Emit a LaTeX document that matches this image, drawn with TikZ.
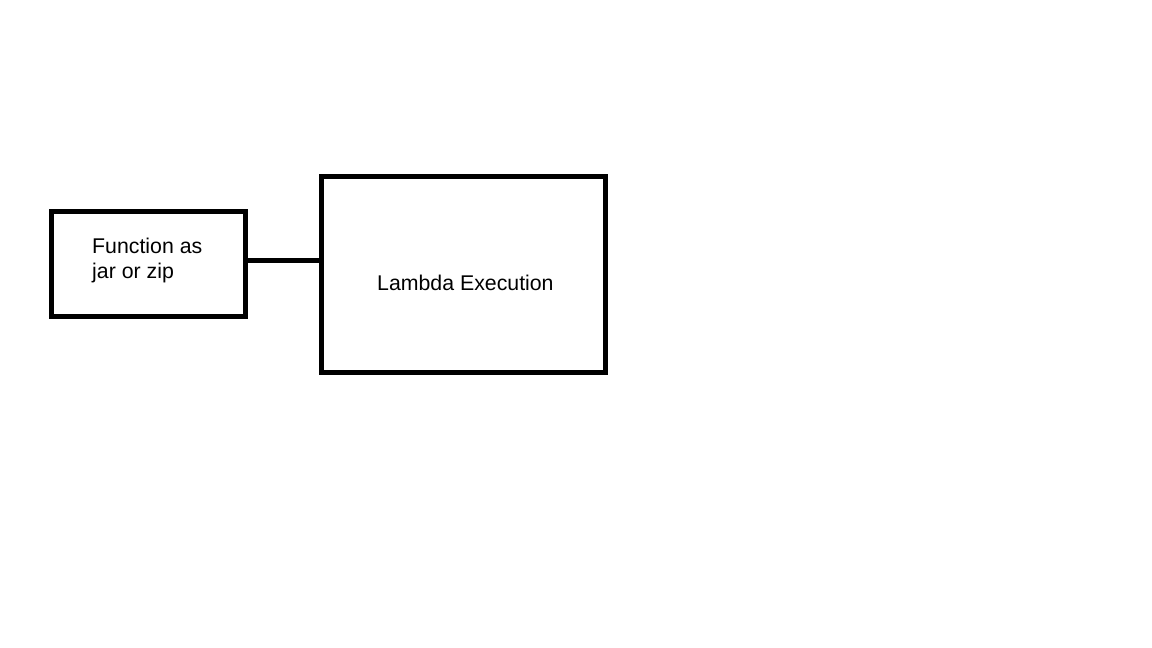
\documentclass[tikz,border=0pt]{standalone}
\usepackage{fontspec}
\setmainfont{Liberation Sans}
\begin{document}
\begin{tikzpicture}[x=1pt,y=-1pt,
  box/.style={draw=black,line width=5pt,inner sep=0pt,minimum width=#1},
  lbl/.style={font=\fontsize{21.3}{25}\selectfont,inner sep=0pt,anchor=base west},
  link/.style={draw=black,line width=5pt}]
\useasboundingbox[fill=white] (0,0) rectangle (1152,648);
\node[box=194pt,minimum height=105pt] (f) at (148,263.5) {};
\node[box=284pt,minimum height=196pt] (l) at (463,274) {};
\node[lbl] (t1) at (92,253) {Function as};
\node[lbl] (t2) at (92,278) {jar or zip};
\node[lbl] (t3) at (377,290) {Lambda Execution};
\draw[link] ([yshift=3.5pt]f.east) -- ([yshift=3.5pt]f.east -| l.west);
\end{tikzpicture}
\end{document}
